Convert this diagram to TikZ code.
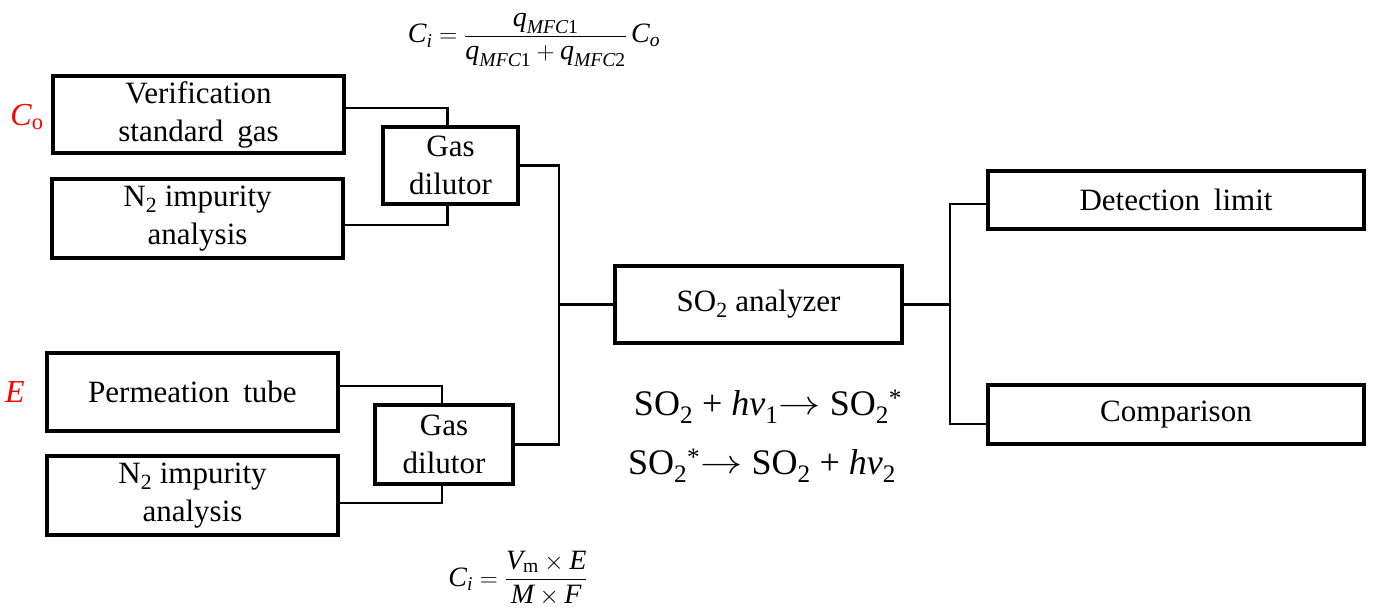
\documentclass[tikz,border=0pt]{standalone}
\usepackage{amsmath}
\usepackage{fontspec}
\setmainfont{Liberation Serif}
\newcommand\ti[1]{\textit{#1}}
\newcommand\tu[1]{\textup{#1}}
\newcommand\bigarr{\raisebox{0.02em}{\scalebox{1.7}[1.35]{$\rightarrow$}}}
\begin{document}
\begin{tikzpicture}[x=1pt,y=-1pt,
  box/.style={draw,line width=3.4pt,align=center,inner sep=0pt,font=\fontsize{31}{38}\selectfont},
  conn/.style={line width=2.6pt},
  eq/.style={inner sep=0pt,font=\fontsize{36}{44}\selectfont},
  frm/.style={inner sep=0pt,font=\fontsize{28}{32}\selectfont},
  red label/.style={inner sep=0pt,text=red,font=\fontsize{32}{38}\selectfont}]
\useasboundingbox (0,0) rectangle (1373,614);
% boxes
\node[box,minimum width=291pt,minimum height=77pt] (ver) at (198.5,114.5) {Verification\\standard\hspace{0.45em}gas};
\node[box,minimum width=291pt,minimum height=79pt] (n2a) at (197.5,218.5) {N$_{\tu{2}}$ impurity\\analysis};
\node[box,minimum width=135pt,minimum height=77pt] (gd1) at (450.5,165.5) {Gas\\dilutor};
\node[box,minimum width=291pt,minimum height=78pt] (perm) at (192.5,392) {Permeation\hspace{0.45em}tube};
\node[box,minimum width=291pt,minimum height=79pt] (n2b) at (192.5,495.5) {N$_{\tu{2}}$ impurity\\analysis};
\node[box,minimum width=138pt,minimum height=79pt] (gd2) at (444,444.5) {Gas\\dilutor};
\node[box,minimum width=287pt,minimum height=77pt] (so2) at (758.5,304.5) {SO$_{\tu{2}}$ analyzer};
\node[box,minimum width=376pt,minimum height=58pt] (det) at (1176,200) {Detection\hspace{0.45em}limit};
\node[box,minimum width=376pt,minimum height=59pt] (cmp) at (1176,414.5) {Comparison};
% labels
\node[red label] (co) at (27,117) {\ti{C}$_{\tu{o}}$};
\node[red label] (e) at (15,392) {\ti{E}};
% connectors
\coordinate (j1) at (559,304.5);
\coordinate (j2) at (950,304.5);
\draw[conn] ([yshift=6.5pt]ver.east) -| ([xshift=-3pt]gd1.north);
\draw[conn] ([yshift=-6.5pt]n2a.east) -| ([xshift=-3pt]gd1.south);
\draw[conn] ([yshift=6pt]perm.east) -| ([xshift=-2pt]gd2.north);
\draw[conn] ([yshift=-7.5pt]n2b.east) -| ([xshift=-2pt]gd2.south);
\draw[conn] (gd1.east) -| (j1);
\draw[conn] (gd2.east) -| (j1);
\draw[conn] (j1) -- (so2.west);
\draw[conn] (so2.east) -- (j2);
\draw[conn] (j2) |- ([yshift=-4pt]det.west);
\draw[conn] (j2) |- ([yshift=-9.5pt]cmp.west);
% equations
\node[eq] (r1) at (768,407) {SO$_{\tu{2}}$ + \ti{hv}$_{\tu{1}}$\bigarr\ SO$_{\tu{2}}{}^{\tu{*}}$};
\node[eq] (r2) at (762,466) {SO$_{\tu{2}}{}^{\tu{*}}$\bigarr\ SO$_{\tu{2}}$ + \ti{hv}$_{\tu{2}}$};
\node[frm] (f1) at (534,40) {$\ti{C}_{\ti{i}} = \dfrac{\ti{q}_{\ti{MFC}\tu{1}}}{\ti{q}_{\ti{MFC}\tu{1}}+\ti{q}_{\ti{MFC}\tu{2}}}\,\ti{C}_{\ti{o}}$};
\node[frm] (f2) at (518,578) {$\ti{C}_{\ti{i}} = \dfrac{\ti{V}_{\tu{m}}\times\ti{E}}{\ti{M}\times\ti{F}}$};
\end{tikzpicture}
\end{document}
